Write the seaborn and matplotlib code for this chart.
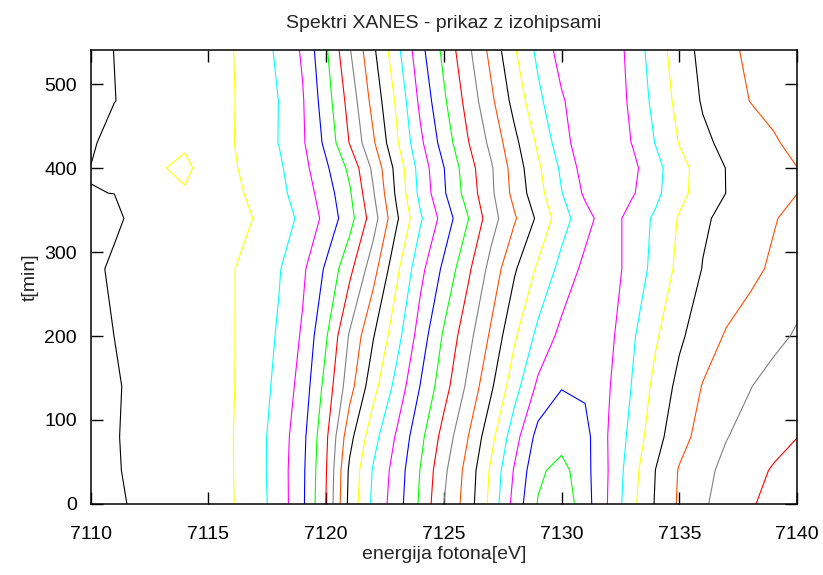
import numpy as np
import matplotlib
matplotlib.use("Agg")
import matplotlib.pyplot as plt
import seaborn as sns

# photon energy grid [eV] and measurement times [min]
energies = list(range(7110, 7141))
times = [0, 40, 80, 140, 200, 280, 340, 370, 400, 430, 480, 540]

# normalised absorption, one spectrum per time (7110 ... 7140 eV)
abs_t000 = [0.035, 0.0443, 0.0549, 0.0654, 0.0760, 0.0866, 0.0971, 0.1274, 0.1727, 0.2413,
            0.3519, 0.5163, 0.6109, 0.6775, 0.7579, 0.8500, 0.9227, 1.0146, 1.1181, 1.2034,
            1.2351, 1.1712, 1.0960, 1.0129, 0.9451, 0.8934, 0.8566, 0.8303, 0.8063, 0.7822, 0.7582]
abs_t040 = [0.0368, 0.0469, 0.0571, 0.0673, 0.0775, 0.0877, 0.0979, 0.1293, 0.1747, 0.2399,
            0.3476, 0.5100, 0.6045, 0.6713, 0.7518, 0.8388, 0.9169, 1.0073, 1.1051, 1.19,
            1.2180, 1.1665, 1.0985, 1.0203, 0.9489, 0.8964, 0.8635, 0.8376, 0.8166, 0.7956, 0.7746]
abs_t080 = [0.0376, 0.0477, 0.0578, 0.0679, 0.0780, 0.0881, 0.0982, 0.1295, 0.1726, 0.2353,
            0.3407, 0.4840, 0.5822, 0.6563, 0.7361, 0.8188, 0.8969, 0.9843, 1.0798, 1.1676,
            1.178, 1.1657, 1.0973, 1.0341, 0.9676, 0.9179, 0.8817, 0.8518, 0.8340, 0.8170, 0.801]
abs_t140 = [0.0368, 0.0468, 0.0568, 0.0668, 0.0768, 0.0867, 0.0967, 0.1243, 0.1639, 0.2198,
            0.3179, 0.4304, 0.5322, 0.6172, 0.7016, 0.7797, 0.8586, 0.9412, 1.0298, 1.1105,
            1.148, 1.142, 1.104, 1.0474, 0.9851, 0.9362, 0.8975, 0.8747, 0.8518, 0.8332, 0.815]
abs_t200 = [0.0407, 0.0501, 0.0595, 0.0688, 0.0782, 0.0876, 0.0969, 0.1216, 0.1558, 0.2065,
            0.2951, 0.4060, 0.4967, 0.5816, 0.6728, 0.7570, 0.8305, 0.9083, 0.9930, 1.0636,
            1.1142, 1.13, 1.1142, 1.0574, 1.0061, 0.9585, 0.9237, 0.8956, 0.8788, 0.8620, 0.8451]
abs_t280 = [0.0448, 0.0535, 0.0622, 0.0709, 0.0797, 0.0884, 0.0971, 0.1187, 0.1466, 0.1907,
            0.2579, 0.3366, 0.4298, 0.5393, 0.6351, 0.7107, 0.7878, 0.8667, 0.9437, 1.0083,
            1.0664, 1.1131, 1.1255, 1.08, 1.0338, 0.9877, 0.9480, 0.9299, 0.9118, 0.8927, 0.872]
abs_t340 = [0.0373, 0.0463, 0.0553, 0.0643, 0.0733, 0.0823, 0.0913, 0.1011, 0.1283, 0.1605,
            0.2149, 0.2811, 0.3767, 0.4923, 0.5932, 0.6700, 0.7457, 0.8282, 0.8942, 0.9596,
            1.0288, 1.0816, 1.1288, 1.0774, 1.0420, 0.9958, 0.9576, 0.9367, 0.9201, 0.9035, 0.885]
abs_t370 = [0.0497, 0.0501, 0.075, 0.094, 0.0993, 0.095, 0.0873, 0.1122, 0.1371, 0.1735,
            0.2256, 0.2938, 0.3955, 0.5100, 0.6136, 0.6938, 0.7697, 0.8401, 0.9154, 0.9819,
            1.0481, 1.1084, 1.12, 1.1057, 1.0615, 1.0137, 0.9784, 0.9492, 0.9325, 0.9158, 0.9005]
abs_t400 = [0.0505, 0.065, 0.085, 0.0996, 0.1015, 0.097, 0.0939, 0.1182, 0.1425, 0.1835,
            0.2418, 0.3114, 0.4109, 0.5174, 0.6206, 0.6985, 0.7775, 0.8436, 0.9218, 0.9912,
            1.0589, 1.1221, 1.125, 1.1127, 1.0656, 1.0162, 0.9788, 0.9487, 0.9323, 0.9159, 0.9005]
abs_t430 = [0.0455, 0.0622, 0.078, 0.092, 0.099, 0.097, 0.0973, 0.1241, 0.1513, 0.1933,
            0.2619, 0.3525, 0.4429, 0.5439, 0.6393, 0.7214, 0.7957, 0.8619, 0.9367, 1.0087,
            1.0779, 1.135, 1.13, 1.0985, 1.0475, 0.9978, 0.9604, 0.9378, 0.9209, 0.9041, 0.89]
abs_t480 = [0.0398, 0.0493, 0.0588, 0.0683, 0.0778, 0.0873, 0.0969, 0.1203, 0.1509, 0.1959,
            0.2772, 0.3692, 0.4667, 0.5587, 0.6614, 0.7424, 0.8153, 0.8891, 0.9675, 1.0378,
            1.0940, 1.135, 1.1405, 1.0879, 1.0349, 0.9846, 0.9451, 0.9219, 0.8994, 0.8897, 0.88]
abs_t540 = [0.0407, 0.0503, 0.0598, 0.0694, 0.0789, 0.0885, 0.0980, 0.1247, 0.1586, 0.2063,
            0.2933, 0.3960, 0.4904, 0.5850, 0.6843, 0.7623, 0.8370, 0.9138, 0.9953, 1.0618,
            1.1206, 1.135, 1.1388, 1.08, 1.0245, 0.9743, 0.9365, 0.9095, 0.8926, 0.8813, 0.87]

levels = [0.05, 0.10, 0.15, 0.20, 0.25, 0.30, 0.35, 0.40, 0.45, 0.50, 0.55, 0.60,
          0.65, 0.70, 0.75, 0.80, 0.85, 0.90, 0.95, 1.00, 1.05, 1.10, 1.15, 1.20]

xticks = [7110, 7115, 7120, 7125, 7130, 7135, 7140]
yticks = [0, 100, 200, 300, 400, 500]

z = np.array([abs_t000, abs_t040, abs_t080, abs_t140, abs_t200, abs_t280,
              abs_t340, abs_t370, abs_t400, abs_t430, abs_t480, abs_t540])

# gnuplot line type colours, the highest level takes the second one
lt_colors = ['#ff0000', '#00ff00', '#0000ff', '#ff00ff', '#00ffff',
             '#ffff00', '#000000', '#ff4d00', '#808080']
n = len(levels)
colors = [lt_colors[(n - i) % 9] for i in range(n)]

sns.set_style("ticks")
plt.rcParams['font.family'] = ['Liberation Sans', 'DejaVu Sans']

fig = plt.figure(figsize=(8.23, 5.75), dpi=100)
ax = fig.add_axes([0.1102, 0.1235, 0.8582, 0.7888])

ax.contour(energies, times, z, levels=levels, colors=colors, linewidths=0.8)

ax.set_xlim(7110, 7140)
ax.set_ylim(0, 540)
ax.set_xticks(xticks)
ax.set_yticks(yticks)
ax.tick_params(direction='in', length=8.5, width=1, top=True, right=True,
               labelsize=14, colors='black')
ax.tick_params(axis='x', pad=15.5)
ax.tick_params(axis='y', pad=10)
for s in ax.spines.values():
    s.set_linewidth(1.1)
    s.set_color('black')

ax.set_title("Spektri XANES - prikaz z izohipsami", fontsize=14, pad=16)
ax.set_xlabel("energija fotona[eV]", fontsize=14, labelpad=2.5)
ax.set_ylabel("t[min]", fontsize=14, labelpad=4)

fig.savefig("out.png", dpi=100)
